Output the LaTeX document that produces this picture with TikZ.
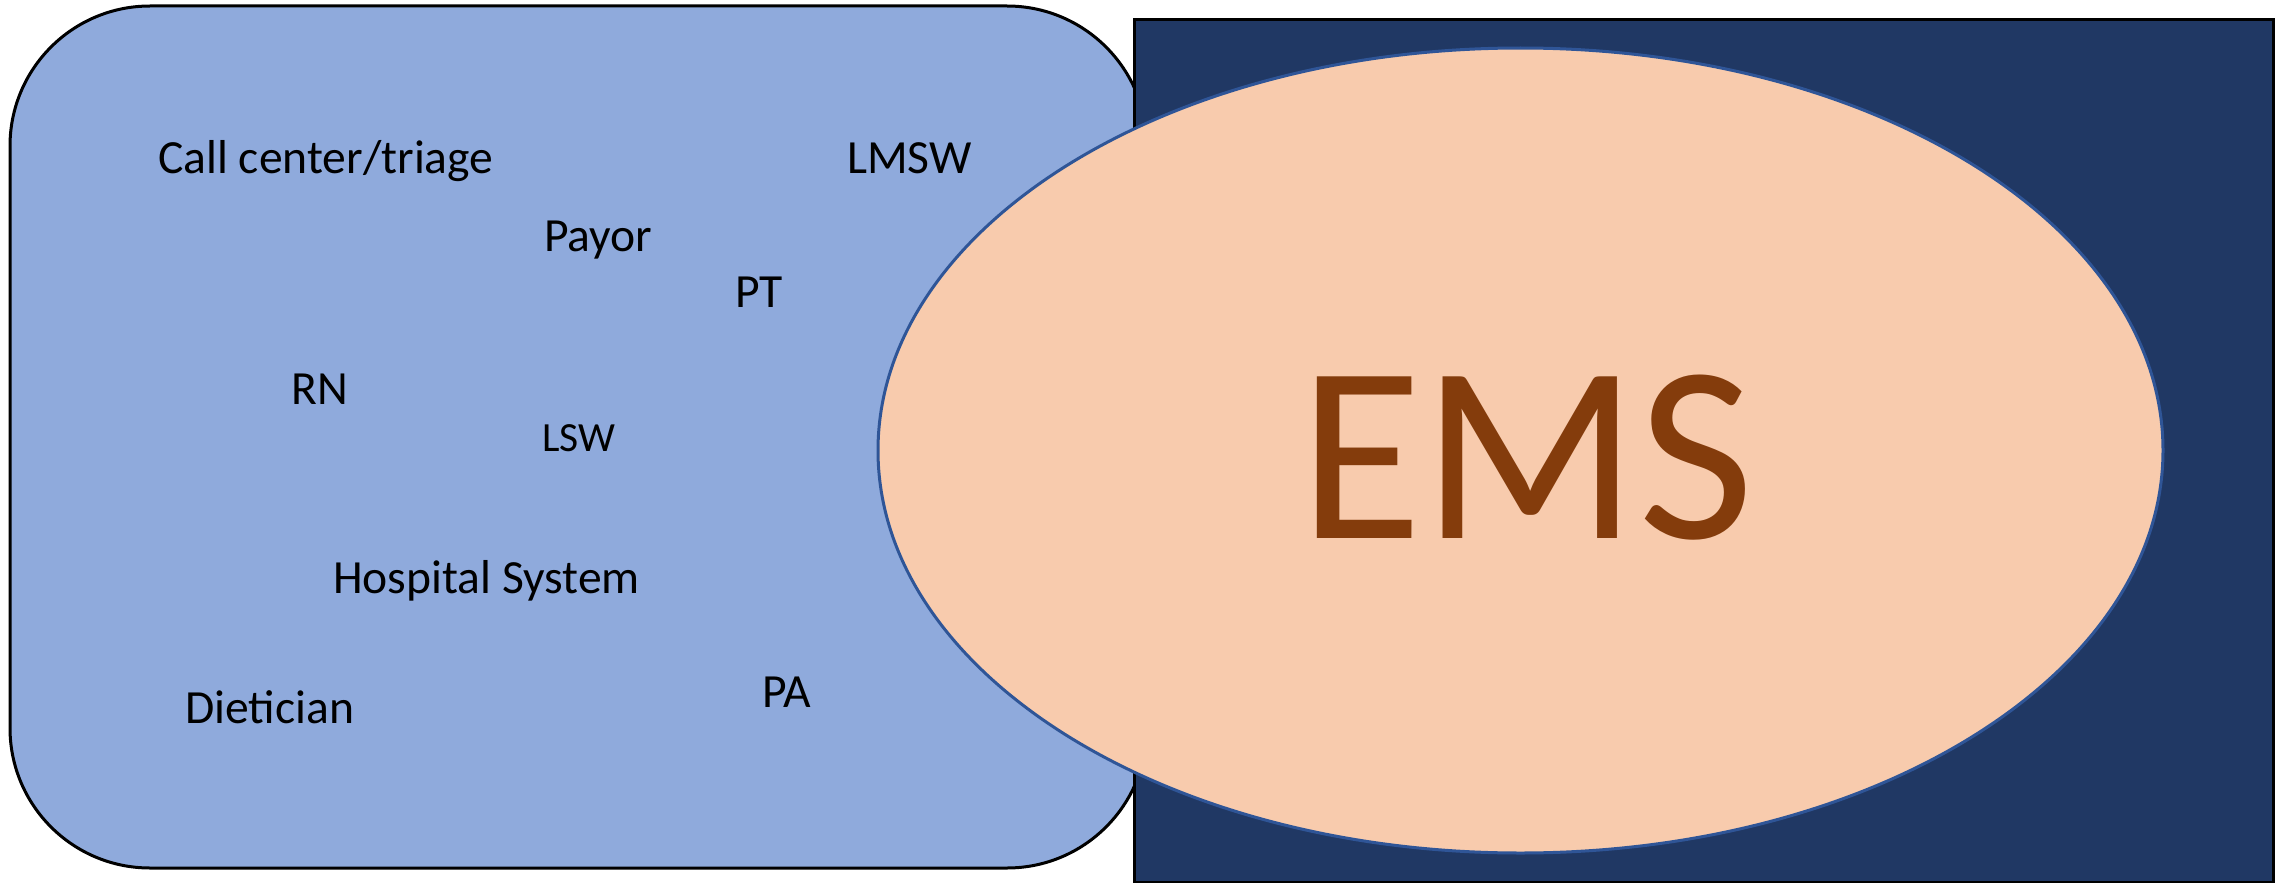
\documentclass[tikz,border=0pt]{standalone}
\usepackage{fontspec}
\setmainfont{Carlito}
\definecolor{panelblue}{HTML}{8FAADC}
\definecolor{navy}{HTML}{203864}
\definecolor{peach}{HTML}{F8CBAD}
\definecolor{ringblue}{HTML}{2F5597}
\definecolor{emsbrown}{HTML}{843C0C}
\tikzset{
  role/.style={anchor=base west, inner sep=0pt, text=black, font=\fontsize{47.6}{56}\selectfont},
  smallrole/.style={role, font=\fontsize{41.5}{50}\selectfont},
  panel/.style={fill=panelblue, draw=black, line width=3pt, rounded corners=140pt},
  darkbox/.style={fill=navy, draw=black, line width=3pt},
  oval/.style={fill=peach, draw=ringblue, line width=3pt}
}
\begin{document}
\begin{tikzpicture}[x=1pt,y=-1pt]
\useasboundingbox (0,0) rectangle (2287,883);
\fill[white] (0,0) rectangle (2287,883);
\draw[panel] (10,6) rectangle (1147,868);
\draw[darkbox] (1134,20) rectangle (2273,882);
\draw[oval] (1520.5,450.5) ellipse [x radius=642.5pt, y radius=402.5pt];
\node[role] (call) at (158,173.3) {Call center/triage};
\node[role] (payor) at (544,251.7) {Payor};
\node[role] (pt) at (735,307.3) {PT};
\node[role] (lmsw) at (847,173.3) {LMSW};
\node[role] (rn) at (291,404.3) {RN};
\node[smallrole] (lsw) at (542,451.7) {LSW};
\node[role] (hosp) at (333,593.3) {Hospital System};
\node[role] (diet) at (185,723.5) {Dietician};
\node[role] (pa) at (762,707.5) {PA};
\node[anchor=base, inner sep=0pt, text=emsbrown, font=\fontsize{252}{300}\selectfont] (ems) at (1527,538) {EMS};
\end{tikzpicture}
\end{document}
